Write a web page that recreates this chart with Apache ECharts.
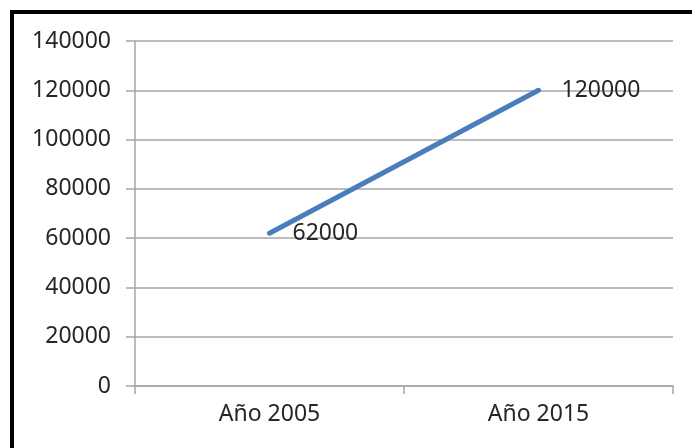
<!DOCTYPE html>
<html>
<head>
<meta charset="utf-8">
<script src="https://cdn.jsdelivr.net/npm/echarts@6/dist/echarts.min.js"></script>
<style>
html,body{margin:0;padding:0;background:#fff;}
#frame{position:absolute;left:10px;top:10px;width:700px;height:460px;border:4px solid #000;box-sizing:border-box;}
#chart{position:absolute;left:0;top:0;width:692px;height:448px;}
</style>
</head>
<body>
<div id="frame"></div>
<div id="chart"></div>
<script>
var categories = ['Año 2005', 'Año 2015'];
var values = [62000, 120000];
var yMin = 0, yMax = 140000, yStep = 20000;

var labelOffsets = [[0, 6], [0, 2]];
var seriesData = values.map(function (v, i) {
  return { value: v, label: { offset: labelOffsets[i] } };
});

var chart = echarts.init(document.getElementById('chart'));
var font = 'Noto Sans';
chart.setOption({
  animation: false,
  grid: { left: 135, right: 19, top: 41, bottom: 62, containLabel: false },
  xAxis: {
    type: 'category',
    data: categories,
    boundaryGap: true,
    axisLine: { show: true, lineStyle: { color: '#a6a6a6', width: 1.5 } },
    axisTick: { show: true, length: 8, lineStyle: { color: '#a6a6a6', width: 1.5 } },
    axisLabel: { color: '#262626', fontSize: 23, fontFamily: font, margin: 17 },
    splitLine: { show: false }
  },
  yAxis: {
    type: 'value',
    min: yMin, max: yMax, interval: yStep,
    axisLine: { show: true, lineStyle: { color: '#a6a6a6', width: 1.5 } },
    axisTick: { show: true, length: 9, lineStyle: { color: '#a6a6a6', width: 1.5 } },
    axisLabel: { color: '#262626', fontSize: 23, fontFamily: font, margin: 24,
      formatter: function (v) { return String(v); } },
    splitLine: { show: true, lineStyle: { color: '#a6a6a6', width: 1.5 } }
  },
  series: [{
    type: 'line',
    data: seriesData,
    symbol: 'circle',
    symbolSize: 2,
    showSymbol: true,
    itemStyle: { color: '#4a7ebb' },
    lineStyle: { color: '#4a7ebb', width: 5, cap: 'round' },
    labelLayout: { hideOverlap: false },
    label: {
      show: true, position: 'right', distance: 22,
      color: '#262626', fontSize: 23, fontFamily: font,
      formatter: function (p) { return String(p.value); }
    }
  }]
});
</script>
</body>
</html>
